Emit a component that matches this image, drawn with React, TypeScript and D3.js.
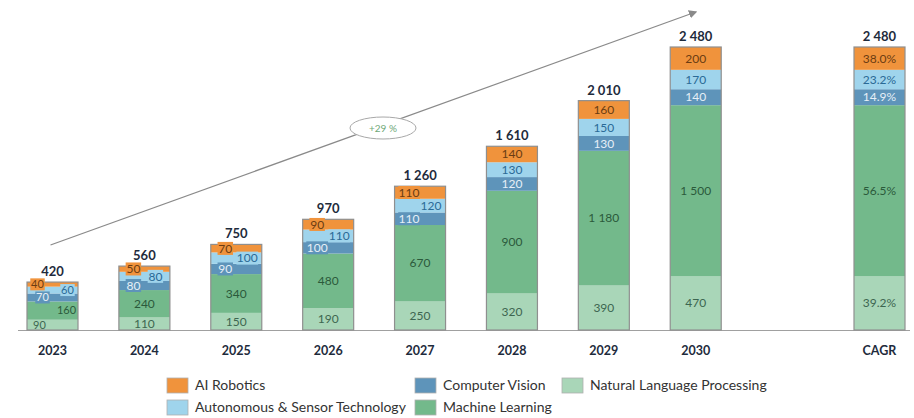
import React from 'react';
import * as d3 from 'd3';

const years = ['2023', '2024', '2025', '2026', '2027', '2028', '2029', '2030'];
const nlp = [90, 110, 150, 190, 250, 320, 390, 470];
const ml = [160, 240, 340, 480, 670, 900, 1180, 1500];
const cv = [70, 80, 90, 100, 110, 120, 130, 140];
const auto = [60, 80, 100, 110, 120, 130, 150, 170];
const ai = [40, 50, 70, 90, 110, 140, 160, 200];
const totals = [420, 560, 750, 970, 1260, 1610, 2010, 2480];
const cagr = ['39.2%', '56.5%', '14.9%', '23.2%', '38.0%'];
const growthLabel = '+29 %';

const series = [
  { name: 'Natural Language Processing', values: nlp, fill: '#a9d6b8', text: '#3d6650' },
  { name: 'Machine Learning', values: ml, fill: '#73b98b', text: '#2b5a3b' },
  { name: 'Computer Vision', values: cv, fill: '#5e94ba', text: '#e6eff7' },
  { name: 'Autonomous & Sensor Technology', values: auto, fill: '#9fd4ec', text: '#2a6a96' },
  { name: 'AI Robotics', values: ai, fill: '#f0933c', text: '#6b3c12' },
];

const legendOrder = [
  ['AI Robotics', 'Computer Vision', 'Natural Language Processing'],
  ['Autonomous & Sensor Technology', 'Machine Learning'],
];

const W = 914;
const H = 418;
const base = 330;
const font = 'Lato, "Open Sans", sans-serif';
const fmt = (v: number) => d3.format(',')(v).replace(/,/g, ' ');

const App = () => {
  const cats = [...years, '', 'CAGR'];
  const x = d3.scalePoint().domain(cats).range([52.5, 879.5]);
  const y = d3.scaleLinear().domain([0, 2480]).range([base, 47]);
  const bw = 51;

  const rows = [...years.map((yr, i) => ({ cat: yr, i, vals: series.map(s => s.values[i]) })),
    { cat: 'CAGR', i: 7, vals: series.map(s => s.values[7]) }];

  const stack = (vals: number[]) => {
    let acc = 0;
    return vals.map(v => { const y0 = acc; acc += v; return [y0, acc]; });
  };

  // horizontal nudge for labels in the short bars, the way the source staggers them
  const nudge = (si: number, i: number) => {
    if (i === 0) return [-13, 14, -10, 15, -15][si];
    if (i > 4) return 0;
    if (si === 2 || si === 4) return -11;
    if (si === 3) return 11;
    return 0;
  };

  const x0 = x('2023')!;
  const x1 = x('2030')!;

  const legendX = [167, 415, 562];

  return (
    <svg width={W} height={H} style={{ position: 'absolute', left: 0, top: 0, background: '#fff' }}>
      <defs>
        <marker id="arr" viewBox="0 0 10 10" refX="8" refY="5" markerWidth="7" markerHeight="7" orient="auto">
          <path d="M0,0 L10,5 L0,10 z" fill="#8a8a8a" />
        </marker>
      </defs>
      <line x1={x0 - 2} y1={245} x2={x1} y2={12} stroke="#8a8a8a" strokeWidth={1.2} markerEnd="url(#arr)" />
      <ellipse cx={383} cy={128} rx={33} ry={11} fill="#fff" stroke="#a8a8a8" strokeWidth={1} />
      <text x={383} y={131.5} textAnchor="middle" fontFamily={font} fontSize={10} fill="#6fa978">{growthLabel}</text>

      <line x1={18} x2={910} y1={base + 0.5} y2={base + 0.5} stroke="#a0a0a0" strokeWidth={1.2} />

      {rows.map(r => {
        const cx = x(r.cat)!;
        const left = cx - bw / 2;
        const st = stack(r.vals);
        const isCagr = r.cat === 'CAGR';
        return (
          <g key={r.cat}>
            {st.map(([a, b], si) => (
              <rect key={si} x={left} y={y(b)} width={bw} height={y(a) - y(b)} fill={series[si].fill} />
            ))}
            <rect x={left} y={y(st[4][1])} width={bw} height={base - y(st[4][1])} fill="none" stroke="#8f8f8f" strokeWidth={1.2} />
            {st.map(([a, b], si) => {
              const label = isCagr ? cagr[si] : String(fmt(r.vals[si]));
              const lx = cx + (isCagr ? 0 : nudge(si, r.i));
              const ly = (y(a) + y(b)) / 2;
              const boxed = !isCagr && r.i <= 4 && si >= 2;
              const fs = r.i === 0 && !isCagr ? 11 : 12;
              const tw = label.length * (fs * 0.52) + 3;
              return (
                <g key={'l' + si}>
                  {boxed && <rect x={lx - tw / 2} y={ly - fs / 2 - 0.5} width={tw} height={fs + 1} fill={series[si].fill} />}
                  <text x={lx} y={ly + fs * 0.35} textAnchor="middle" fontFamily={font} fontSize={fs} fill={series[si].text}>{label}</text>
                </g>
              );
            })}
            <text x={cx} y={y(st[4][1]) - 6} textAnchor="middle" fontFamily={font} fontSize={13} fontWeight="bold" fill="#1e2b3c">
              {fmt(totals[r.i])}
            </text>
            <text x={cx} y={355} textAnchor="middle" fontFamily={font} fontSize={12.5} fontWeight="bold" fill="#1e2b3c">{r.cat}</text>
          </g>
        );
      })}

      {legendOrder.map((row, ri) => row.map((name, ci) => {
        const s = series.find(q => q.name === name)!;
        const ly = 378 + ri * 22;
        return (
          <g key={name}>
            <rect x={legendX[ci]} y={ly} width={21} height={15} fill={s.fill} stroke="#b0b0b0" strokeWidth={0.8} />
            <text x={legendX[ci] + 28} y={ly + 12} fontFamily={font} fontSize={14} fill="#333">{name}</text>
          </g>
        );
      }))}
    </svg>
  );
};

export default App;
